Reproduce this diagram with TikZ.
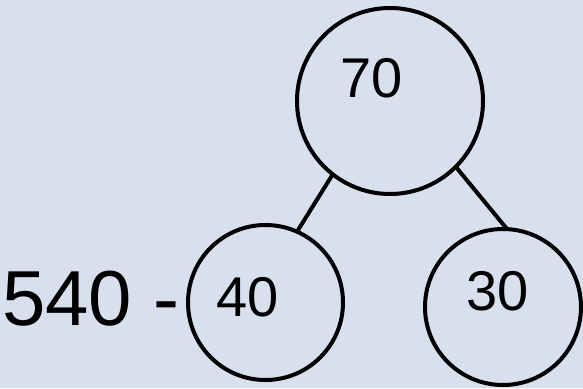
\documentclass[tikz,border=0pt]{standalone}
\usepackage{fontspec}
\setmainfont{Liberation Sans}
\definecolor{bgpaper}{RGB}{216,223,237}
\begin{document}
\begin{tikzpicture}[x=1pt,y=-1pt,
  bubble/.style={circle,draw=black,line width=4pt,inner sep=0pt,outer sep=0pt},
  num/.style={inner sep=0pt,font=\fontsize{56}{60}\selectfont},
  link/.style={line width=4pt}]
\fill[bgpaper] (0,0) rectangle (583,388);
\useasboundingbox (0,0) rectangle (583,388);
\node[bubble,minimum size=186pt] (top) at (390,101) {};
\node[bubble,minimum size=155pt] (left) at (265.5,302.5) {};
\node[bubble,minimum size=156pt] (right) at (503,307) {};
\node[num] (t70) at (372,78) {70};
\node[num] (t40) at (248,297.5) {40};
\node[num] (t30) at (498,291) {30};
\node[inner sep=0pt,anchor=east,font=\fontsize{78}{80}\selectfont] (lhs) at (180,299) {540 -};
\draw[link] (top.232) -- (left.66);
\draw[link] (top.315) -- (right.87);
\end{tikzpicture}
\end{document}
